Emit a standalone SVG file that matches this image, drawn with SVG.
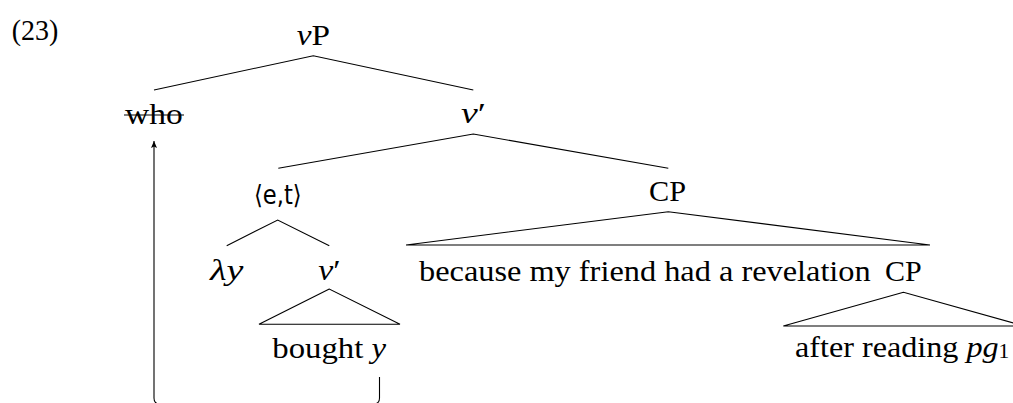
<svg xmlns="http://www.w3.org/2000/svg" width="1013" height="403" viewBox="0 0 1013 403">
<style>
text{font-family:"Liberation Serif","DejaVu Serif",serif;font-size:30px;fill:#000}
.m{font-style:italic}
.s{font-family:"DejaVu Sans","Liberation Sans",sans-serif;font-size:26px}
.e{stroke:#000;stroke-width:1.1;fill:none}
</style>
<defs>
<marker id="ah" markerUnits="userSpaceOnUse" markerWidth="10" markerHeight="10" refX="7" refY="3" orient="auto">
<path d="M0,0 L7,3 L0,6 L1.5,3 Z" fill="#000"/>
</marker>
</defs>
<g id="connectors">
<polyline class="e" points="154,90 313.3,55.7 473.3,90"/>
<polyline class="e" points="278.3,168.3 473.3,134 668.3,168.3"/>
<polyline class="e" points="226.7,245.7 277.7,220 329.3,245.7"/>
<polygon class="e" points="329.3,289 259,324.3 400,324.3"/>
<polygon class="e" points="668.3,211.7 406,245 930,245"/>
<polygon class="e" points="903.5,292.3 783.3,326 1024,326"/>
<path class="e" d="M379.5,377 V398 Q379.5,404 373.5,404 H160 Q154,404 154,398 V141" marker-end="url(#ah)"/>
</g>
<g id="ex"><text x="11.7" y="40" textLength="46.6" lengthAdjust="spacingAndGlyphs">(23)</text></g>
<g id="vP"><text x="296.7" y="45" textLength="33.3" lengthAdjust="spacingAndGlyphs"><tspan class="m">v</tspan>P</text></g>
<g id="who"><text x="125" y="124" textLength="57.7" lengthAdjust="spacingAndGlyphs">who</text><line class="e" x1="124" y1="115" x2="184" y2="115"/></g>
<g id="vbar1"><text x="461" y="123" textLength="25" lengthAdjust="spacingAndGlyphs"><tspan class="m">v</tspan>′</text></g>
<g id="et"><text class="s" x="254" y="204" textLength="47.7" lengthAdjust="spacingAndGlyphs">⟨e,t⟩</text></g>
<g id="CP1"><text x="649" y="201" textLength="37" lengthAdjust="spacingAndGlyphs">CP</text></g>
<g id="lambda"><text class="m" x="210" y="280" textLength="33.3" lengthAdjust="spacingAndGlyphs">λy</text></g>
<g id="vbar2"><text x="318.3" y="280" textLength="22.4" lengthAdjust="spacingAndGlyphs"><tspan class="m">v</tspan>′</text></g>
<g id="because"><text x="419" y="280.7" textLength="451.7" lengthAdjust="spacingAndGlyphs">because my friend had a revelation</text></g>
<g id="CP2"><text x="885" y="280.7" textLength="36.7" lengthAdjust="spacingAndGlyphs">CP</text></g>
<g id="bought"><text x="272.3" y="357.7" textLength="113.7" lengthAdjust="spacingAndGlyphs">bought <tspan class="m">y</tspan></text></g>
<g id="after"><text x="795" y="357.3" textLength="214.3" lengthAdjust="spacingAndGlyphs">after reading <tspan class="m">pg</tspan><tspan font-size="20" dy="1">1</tspan></text></g>
</svg>
